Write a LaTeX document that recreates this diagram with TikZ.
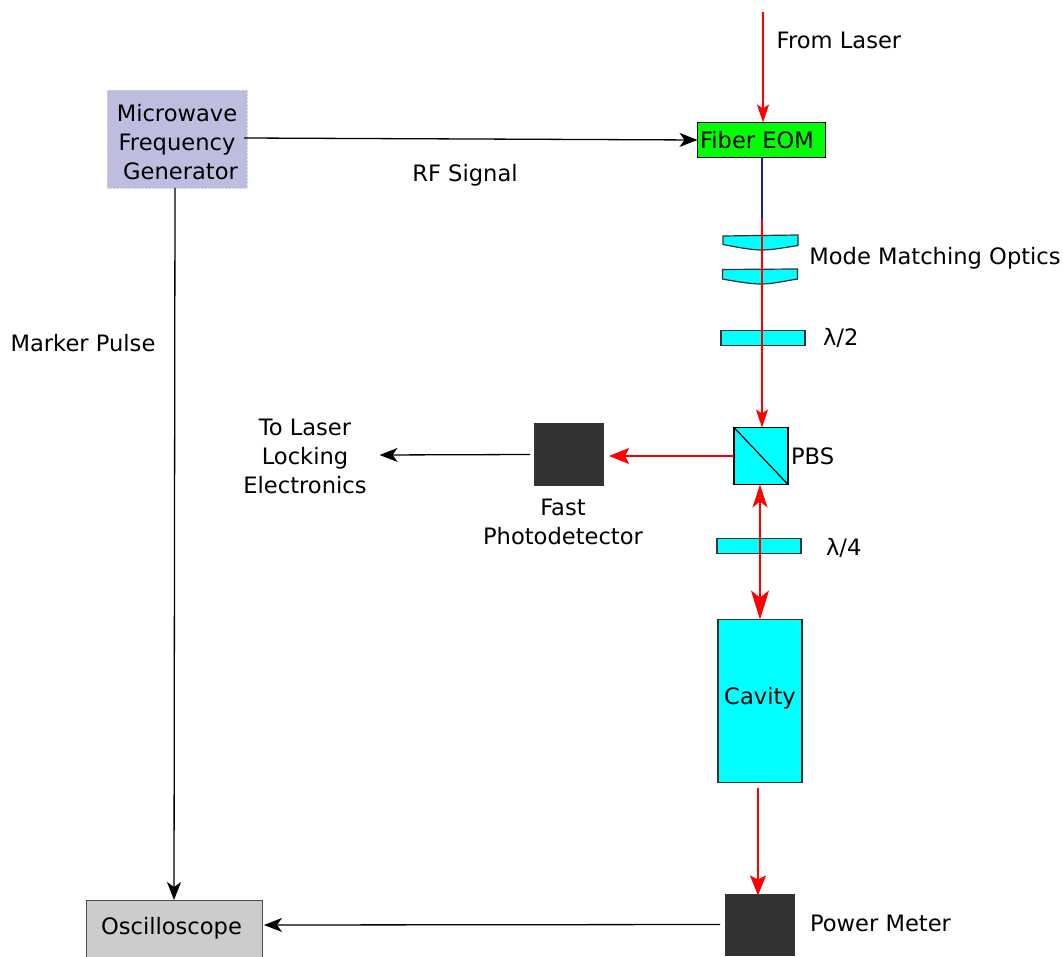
\documentclass[tikz,border=0pt]{standalone}
\usepackage{fontspec}
\setmainfont{DejaVu Sans}
\usepackage{xcolor}
\usetikzlibrary{positioning,arrows.meta,calc}
\definecolor{optic}{HTML}{00FFFF}
\definecolor{eomgreen}{HTML}{00FF00}
\definecolor{mwblue}{HTML}{BDBDDF}
\definecolor{darkbox}{HTML}{333333}
\definecolor{scopegray}{HTML}{CCCCCC}
\definecolor{fiberblue}{HTML}{1A1A9C}

\begin{document}
\begin{tikzpicture}[
  x=1pt, y=1pt,
  every node/.style={font=\fontsize{22.6}{29}\selectfont, inner sep=0pt, outer sep=0pt},
  eombox/.style={draw=black, line width=1.2pt, fill=eomgreen,
                 minimum width=128pt, minimum height=35pt},
  mwbox/.style={draw=mwblue!70!white, densely dotted, fill=mwblue,
                minimum width=140pt, minimum height=98pt, align=center},
  plate/.style={draw=black!80, line width=1.2pt, fill=optic,
                minimum width=84pt, minimum height=15pt},
  cubebox/.style={draw=black, line width=1.2pt, fill=optic,
                  minimum width=54pt, minimum height=57pt},
  cavbox/.style={draw=black!80, line width=1.2pt, fill=optic,
                 minimum width=84pt, minimum height=163pt},
  dark/.style={fill=darkbox, minimum width=70pt, minimum height=62pt},
  scopebox/.style={draw=black!70, line width=1pt, fill=scopegray,
                   minimum width=176pt, minimum height=60pt},
  lens/.style={draw=black!80, line width=1.2pt, fill=optic},
  txt/.style={align=center},
  arr/.style={-{Stealth[length=18pt, width=14pt, inset=5pt]}, line width=1.3pt},
  rarr/.style={red, -{Stealth[length=18pt, width=12pt, inset=4pt]}, line width=1.1pt},
  rbig/.style={red, -{Stealth[length=20pt, width=16pt, inset=4pt]}, line width=1.3pt},
  rboth/.style={red, {Stealth[length=23pt, width=15pt, inset=6pt]}-{Stealth[length=29pt, width=18pt, inset=7pt]}, line width=1.3pt},
]
\useasboundingbox (0,0) rectangle (1063,-957);

%% Main boxes
\node[mwbox] (mw) at (177,-139) {\rule{0pt}{24pt}Microwave\\Frequency\\\hspace*{7pt}Generator};
\node[eombox] (eom) at (761.5,-140) {Fiber EOM\hspace*{9pt}};
\node[scopebox] (scope) at (174,-930) {\raisebox{9pt}{Oscilloscope}\hspace*{5pt}};

%% Optics column
\node[plate, below=173pt of eom, xshift=1.5pt] (hwp) {};
\node[cubebox, below=82pt of hwp, xshift=-2pt] (pbs) {};
\node[plate, below=54pt of pbs, xshift=-2pt] (qwp) {};
\node[cavbox, below=66pt of qwp, xshift=1pt] (cav) {\raisebox{10pt}{Cavity}};
\node[dark, below=111pt of cav] (pm) {};
\node[dark, left=130pt of pbs, yshift=1.5pt] (pd) {};
\draw[line width=1.2pt] (pbs.north west) -- (pbs.south east);

%% Lenses
\draw[lens] (723,-236) -- (798,-235) -- (798,-245.5)
  .. controls (785,-247.5) and (772,-250) .. (762,-250)
  .. controls (752,-250) and (738,-247.5) .. (723,-244.5) -- cycle;
\draw[lens] (722.5,-269.5) -- (797.5,-269) -- (797.5,-279)
  .. controls (785,-281) and (772,-284) .. (762,-284)
  .. controls (752,-284) and (738,-282) .. (722.5,-279) -- cycle;

%% Labels
\node[txt] (fromlaser) at (839,-40) {From Laser};
\node[txt] (rf) at (465,-175) {RF Signal};
\node[txt] (marker) at (83,-343) {Marker Pulse};
\node[txt, right=18pt of hwp] (hlabel) {λ/2};
\node[txt, right=25pt of qwp, yshift=-2pt] (qlabel) {λ/4};
\node[txt, right=3pt of pbs] (pbslabel) {PBS};
\node[txt] (mmo) at (935,-258) {Mode Matching Optics};
\node[txt, below=14pt of pd, xshift=-6pt] (pdlabel) {Fast\\Photodetector};
\node[txt] (lock) at (305,-456) {To Laser\\Locking\\Electronics};
\node[txt, right=15pt of pm, yshift=1pt] (pmlabel) {Power Meter};

%% Beam path
\coordinate (laser) at (763,-12);
\coordinate (fiberend) at (762,-219);
\draw[rarr] (laser) -- (laser |- eom.north);
\draw[fiberblue, line width=1.3pt] (fiberend |- eom.south) -- (fiberend);
\draw[rarr] (fiberend) -- (fiberend |- pbs.north);
\draw[rbig] (pbs.west) -- ($(pbs.west -| pd.east)+(5,0)$);
\draw[rboth] (cav.north |- pbs.south) -- (cav.north);
\draw[rbig] ($(cav.south)+(-2,-5)$) -- ($(pm.north)+(-2,-2)$);

%% Signals
\draw[arr] ($(mw.east)+(-3,1)$) -- (eom.west);
\draw[arr] ($(mw.south)+(-2,0)$) -- (scope.north);
\draw[arr] ($(pd.west)+(-4,0)$) -- ($(lock.east)+(13,1)$);
\draw[arr] ($(pm.west)+(-5,0)$) -- ($(scope.east)+(2,5)$);

\end{tikzpicture}
\end{document}
